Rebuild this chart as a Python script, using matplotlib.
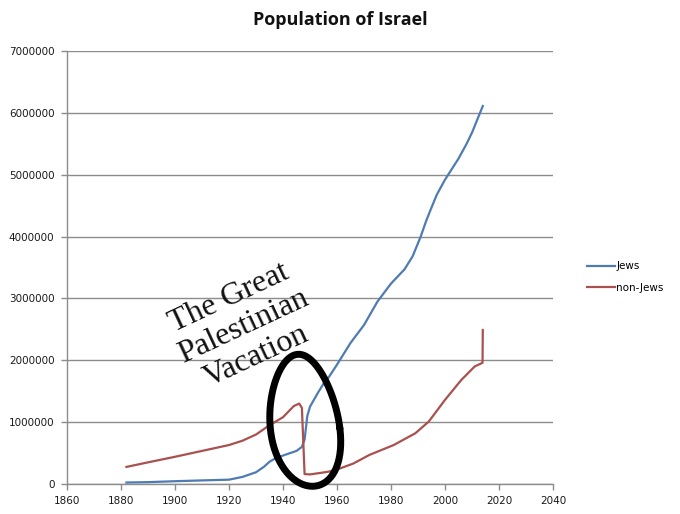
import numpy as np
import matplotlib
matplotlib.use("Agg")
import matplotlib.pyplot as plt
import matplotlib.transforms as mtransforms

# ---- data ----
jews_years = [1882, 1890, 1900, 1910, 1920, 1925, 1930, 1933, 1935, 1937, 1940, 1945,
              1947, 1948, 1949, 1950, 1953, 1955, 1957, 1960, 1965, 1970, 1975, 1980,
              1985, 1988, 1991, 1993, 1995, 1997, 2000, 2005, 2008, 2010, 2014]
jews_pop = [24000, 30000, 45000, 58000, 70000, 115000, 190000, 280000, 360000, 410000,
            460000, 535000, 600000, 720000, 1100000, 1250000, 1480000, 1620000, 1730000,
            1930000, 2280000, 2570000, 2950000, 3240000, 3470000, 3680000, 4000000,
            4250000, 4470000, 4680000, 4920000, 5260000, 5500000, 5680000, 6110000]

non_years = [1882, 1890, 1900, 1910, 1920, 1925, 1930, 1935, 1940, 1944, 1946, 1947,
             1948, 1950, 1954, 1957, 1961, 1966, 1972, 1981, 1989, 1994, 2000, 2006,
             2011, 2013.9, 2014]
non_pop = [276000, 350000, 440000, 535000, 630000, 700000, 800000, 950000, 1080000,
           1260000, 1300000, 1230000, 160000, 155000, 180000, 200000, 250000, 330000,
           470000, 630000, 820000, 1010000, 1360000, 1680000, 1900000, 1960000, 2490000]

x_ticks = [1860, 1880, 1900, 1920, 1940, 1960, 1980, 2000, 2020, 2040]
y_ticks = [0, 1000000, 2000000, 3000000, 4000000, 5000000, 6000000, 7000000]
series_labels = ["Jews", "non-Jews"]
title = "Population of Israel"
note = "The Great\nPalestinian\nVacation"

blue = "#4f7bb3"
red = "#a9514f"
grid_c = "#8c8c8c"

fig = plt.figure(figsize=(6.8, 5.14), dpi=100)
ax = fig.add_axes([67/680, 1-484/514, (553-67)/680, (484-51)/514])

ax.plot(jews_years, jews_pop, color=blue, lw=1.6, label=series_labels[0], zorder=3)
ax.plot(non_years, non_pop, color=red, lw=1.6, label=series_labels[1], zorder=3)

ax.set_xlim(x_ticks[0], x_ticks[-1])
ax.set_ylim(y_ticks[0], y_ticks[-1])
ax.set_xticks(x_ticks)
ax.set_yticks(y_ticks)
ax.set_xticklabels([str(v) for v in x_ticks])
ax.set_yticklabels([str(v) for v in y_ticks])
ax.tick_params(axis='both', labelsize=7.5, colors=grid_c, length=4, width=1,
               labelcolor="#1a1a1a")
ax.tick_params(axis='y', pad=5)
ax.tick_params(axis='x', pad=5)
ax.grid(axis='y', color=grid_c, lw=1)
ax.set_axisbelow(True)
for s in ["top", "right"]:
    ax.spines[s].set_visible(False)
for s in ["left", "bottom"]:
    ax.spines[s].set_color(grid_c)
    ax.spines[s].set_linewidth(1)

fig.text(340/680, 1-20/514, title, ha="center", va="center",
         fontsize=13, fontweight="bold", family="Open Sans", color="#111111")

fig.legend(loc="center left", bbox_to_anchor=(587/680, 1-277/514), frameon=False,
           fontsize=7.5, handlelength=2.7, handletextpad=0.1, labelspacing=1.1,
           borderpad=0, borderaxespad=0)

# annotation text
ax.text(1925.2, 2540000, note, rotation=25, rotation_mode="anchor",
        ha="center", va="center", multialignment="center",
        family="Liberation Serif", fontsize=23, color="#111111", linespacing=1.15)

# hand drawn loop (in pixel offsets around a data-space centre)
t = np.linspace(0, 2*np.pi, 240)
a, b, k = 35, 65.5, 0.15
px = a*np.cos(t)*(1 - k*np.sin(t)) - 0.04*b*np.sin(t)
py = b*np.sin(t) - 8*np.cos(t)
trans = fig.dpi_scale_trans + mtransforms.ScaledTranslation(1948.1, 1030000, ax.transData)
ax.plot(px/100, py/100, color="black", lw=5, transform=trans, clip_on=False, zorder=5,
        solid_capstyle="round")

fig.savefig("out.png", dpi=100)
